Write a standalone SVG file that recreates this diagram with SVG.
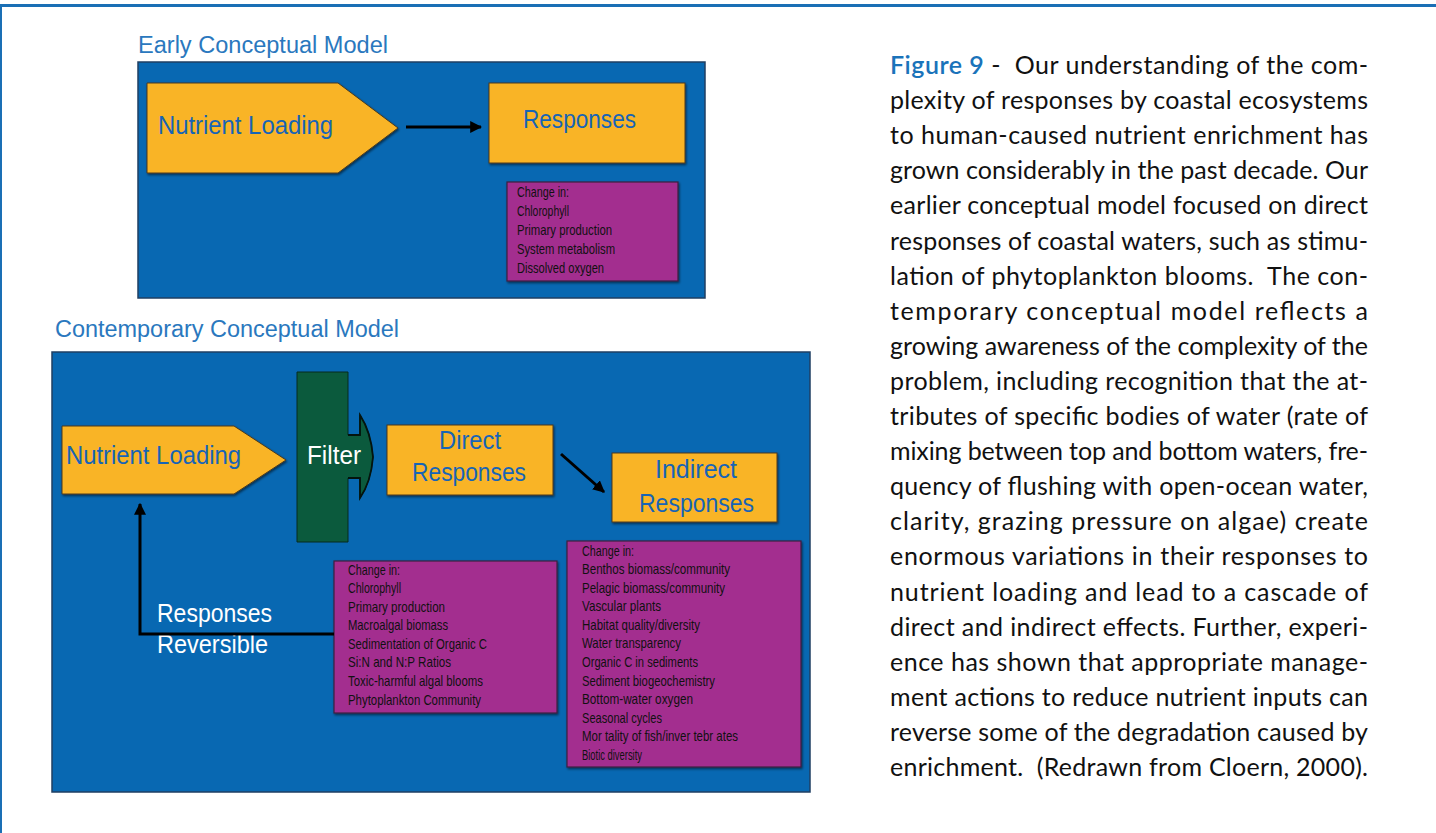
<svg xmlns="http://www.w3.org/2000/svg" width="1436" height="833" viewBox="0 0 1436 833">
<defs>
<style>
.bg{fill:#ffffff}
.panel{fill:#0868b2;stroke:#1f3f63;stroke-width:1.5}
.orange{fill:#f9b426;stroke:#4a3a20;stroke-width:1;filter:url(#sh)}
.purple{fill:#a32f8f;stroke:#3b2040;stroke-width:1.2;filter:url(#sh)}
.green{fill:#0b5a3d;stroke:#062a1e;stroke-width:1}
.title{font-family:"Liberation Sans",Arial,sans-serif;font-size:23px;fill:#2a78be}
.lbl{font-family:"Liberation Sans",Arial,sans-serif;font-size:25px;fill:#1764b6}
.wlbl{font-family:"Liberation Sans",Arial,sans-serif;font-size:25px;fill:#ffffff}
.lst{font-family:"Liberation Sans",Arial,sans-serif;font-size:15px;fill:#111111}
.cap{font-family:Lato,"Open Sans",sans-serif;font-size:25px;fill:#111111}
.fig{fill:#1a73ba;font-weight:600}
.conn{stroke:#000000;stroke-width:3;fill:none}
</style>
<filter id="sh" x="-5%" y="-5%" width="110%" height="115%">
<feDropShadow dx="1" dy="1.5" stdDeviation="0.8" flood-color="#000000" flood-opacity="0.55"/>
</filter>
<marker id="ah" viewBox="0 0 10 10" refX="9" refY="5" markerWidth="4" markerHeight="4" orient="auto" markerUnits="strokeWidth">
<path d="M0,0 L10,5 L0,10 z" fill="#000000"/>
</marker>
</defs>
<rect class="bg" x="0" y="0" width="1436" height="833"/>
<g id="frame">
<rect x="0" y="4" width="1436" height="3" fill="#1a6fb5"/>
<rect x="0" y="4" width="2" height="829" fill="#1a6fb5"/>
</g>

<g id="early-model">
<text class="title" x="138" y="53" textLength="250" lengthAdjust="spacingAndGlyphs">Early Conceptual Model</text>
<rect class="panel" x="138" y="62" width="567" height="236"/>
</g>
<g id="early-nutrient-loading">
<polygon class="orange" points="147,83 338,83 398,128 338,173 147,173"/>
<text class="lbl" x="158" y="134" textLength="175" lengthAdjust="spacingAndGlyphs">Nutrient Loading</text>
</g>
<g id="early-responses">
<rect class="orange" x="489" y="83" width="196" height="80"/>
<text class="lbl" x="523" y="128" textLength="113" lengthAdjust="spacingAndGlyphs">Responses</text>
</g>
<g id="early-changes">
<rect class="purple" x="507" y="182" width="171" height="99"/>
<text class="lst" x="517" y="197" textLength="52" lengthAdjust="spacingAndGlyphs">Change in:</text>
<text class="lst" x="517" y="216" textLength="52" lengthAdjust="spacingAndGlyphs">Chlorophyll</text>
<text class="lst" x="517" y="235" textLength="95" lengthAdjust="spacingAndGlyphs">Primary production</text>
<text class="lst" x="517" y="254" textLength="98" lengthAdjust="spacingAndGlyphs">System metabolism</text>
<text class="lst" x="517" y="273" textLength="87" lengthAdjust="spacingAndGlyphs">Dissolved oxygen</text>
</g>

<g id="contemporary-model">
<text class="title" x="55" y="337" textLength="344" lengthAdjust="spacingAndGlyphs">Contemporary Conceptual Model</text>
<rect class="panel" x="52" y="352" width="758" height="440"/>
</g>
<g id="contemporary-nutrient-loading">
<polygon class="orange" points="62,426 234,426 286,460 234,494 62,494"/>
<text class="lbl" x="66" y="464" textLength="175" lengthAdjust="spacingAndGlyphs">Nutrient Loading</text>
</g>
<g id="filter">
<path class="green" d="M297,372 H348 V435 H360 V415 Q371,432 373,457 Q371,482 360,498 V478 H348 V542 H297 Z"/>
<path d="M348,435 H360 V415 Q371,432 373,457 Q371,482 360,498 V478 H348" fill="none" stroke="#04140e" stroke-width="1.8"/>
<text class="wlbl" x="307" y="464" textLength="54" lengthAdjust="spacingAndGlyphs">Filter</text>
</g>
<g id="direct-responses">
<rect class="orange" x="387" y="425" width="166" height="70"/>
<text class="lbl" x="439" y="449" textLength="62" lengthAdjust="spacingAndGlyphs">Direct</text>
<text class="lbl" x="412" y="481" textLength="114" lengthAdjust="spacingAndGlyphs">Responses</text>
</g>
<g id="indirect-responses">
<rect class="orange" x="612" y="453" width="165" height="69"/>
<text class="lbl" x="655" y="478" textLength="82" lengthAdjust="spacingAndGlyphs">Indirect</text>
<text class="lbl" x="639" y="512" textLength="115" lengthAdjust="spacingAndGlyphs">Responses</text>
</g>
<g id="direct-changes">
<rect class="purple" x="334" y="561" width="223" height="152"/>
<text class="lst" x="348" y="575" textLength="52" lengthAdjust="spacingAndGlyphs">Change in:</text>
<text class="lst" x="348" y="593" textLength="53" lengthAdjust="spacingAndGlyphs">Chlorophyll</text>
<text class="lst" x="348" y="612" textLength="97" lengthAdjust="spacingAndGlyphs">Primary production</text>
<text class="lst" x="348" y="630" textLength="100" lengthAdjust="spacingAndGlyphs">Macroalgal biomass</text>
<text class="lst" x="348" y="649" textLength="139" lengthAdjust="spacingAndGlyphs">Sedimentation of Organic C</text>
<text class="lst" x="348" y="667" textLength="103" lengthAdjust="spacingAndGlyphs">Si:N and N:P Ratios</text>
<text class="lst" x="348" y="686" textLength="135" lengthAdjust="spacingAndGlyphs">Toxic-harmful algal blooms</text>
<text class="lst" x="348" y="705" textLength="133" lengthAdjust="spacingAndGlyphs">Phytoplankton Community</text>
</g>
<g id="indirect-changes">
<rect class="purple" x="567" y="541" width="234" height="226"/>
<text class="lst" x="582" y="556" textLength="52" lengthAdjust="spacingAndGlyphs">Change in:</text>
<text class="lst" x="582" y="574" textLength="148" lengthAdjust="spacingAndGlyphs">Benthos biomass/community</text>
<text class="lst" x="582" y="593" textLength="143" lengthAdjust="spacingAndGlyphs">Pelagic biomass/community</text>
<text class="lst" x="582" y="611" textLength="79" lengthAdjust="spacingAndGlyphs">Vascular plants</text>
<text class="lst" x="582" y="630" textLength="118" lengthAdjust="spacingAndGlyphs">Habitat quality/diversity</text>
<text class="lst" x="582" y="648" textLength="99" lengthAdjust="spacingAndGlyphs">Water transparency</text>
<text class="lst" x="582" y="667" textLength="116" lengthAdjust="spacingAndGlyphs">Organic C in sediments</text>
<text class="lst" x="582" y="686" textLength="133" lengthAdjust="spacingAndGlyphs">Sediment biogeochemistry</text>
<text class="lst" x="582" y="704" textLength="111" lengthAdjust="spacingAndGlyphs">Bottom-water oxygen</text>
<text class="lst" x="582" y="723" textLength="80" lengthAdjust="spacingAndGlyphs">Seasonal cycles</text>
<text class="lst" x="582" y="741" textLength="156" lengthAdjust="spacingAndGlyphs">Mor tality of fish/inver tebr ates</text>
<text class="lst" x="582" y="760" textLength="60" lengthAdjust="spacingAndGlyphs">Biotic diversity</text>
</g>
<g id="reversible-label">
<text class="wlbl" x="157" y="622" textLength="115" lengthAdjust="spacingAndGlyphs">Responses</text>
<text class="wlbl" x="157" y="653" textLength="111" lengthAdjust="spacingAndGlyphs">Reversible</text>
</g>

<g id="connectors">
<line class="conn" x1="406" y1="127" x2="481" y2="127" marker-end="url(#ah)"/>
<line class="conn" x1="561" y1="454" x2="604" y2="492" marker-end="url(#ah)"/>
<polyline class="conn" points="334,634 140,634 140,504" marker-end="url(#ah)"/>
</g>

<g id="caption">
<text class="cap" x="890" y="74" textLength="478" lengthAdjust="spacing" xml:space="preserve"><tspan class="fig">Figure 9</tspan> -  Our understanding of the com-</text>
<text class="cap" x="890" y="109" textLength="478" lengthAdjust="spacing">plexity of responses by coastal ecosystems</text>
<text class="cap" x="890" y="144" textLength="478" lengthAdjust="spacing">to human-caused nutrient enrichment has</text>
<text class="cap" x="890" y="179" textLength="478" lengthAdjust="spacing">grown considerably in the past decade. Our</text>
<text class="cap" x="890" y="214" textLength="478" lengthAdjust="spacing">earlier conceptual model focused on direct</text>
<text class="cap" x="890" y="250" textLength="478" lengthAdjust="spacing">responses of coastal waters, such as stimu-</text>
<text class="cap" x="890" y="285" textLength="478" lengthAdjust="spacing" xml:space="preserve">lation of phytoplankton blooms.  The con-</text>
<text class="cap" x="890" y="320" textLength="478" lengthAdjust="spacing">temporary conceptual model reflects a</text>
<text class="cap" x="890" y="355" textLength="478" lengthAdjust="spacing">growing awareness of the complexity of the</text>
<text class="cap" x="890" y="390" textLength="478" lengthAdjust="spacing">problem, including recognition that the at-</text>
<text class="cap" x="890" y="425" textLength="478" lengthAdjust="spacing">tributes of specific bodies of water (rate of</text>
<text class="cap" x="890" y="460" textLength="478" lengthAdjust="spacing">mixing between top and bottom waters, fre-</text>
<text class="cap" x="890" y="495" textLength="478" lengthAdjust="spacing">quency of flushing with open-ocean water,</text>
<text class="cap" x="890" y="530" textLength="478" lengthAdjust="spacing">clarity, grazing pressure on algae) create</text>
<text class="cap" x="890" y="565" textLength="478" lengthAdjust="spacing">enormous variations in their responses to</text>
<text class="cap" x="890" y="601" textLength="478" lengthAdjust="spacing">nutrient loading and lead to a cascade of</text>
<text class="cap" x="890" y="636" textLength="478" lengthAdjust="spacing">direct and indirect effects. Further, experi-</text>
<text class="cap" x="890" y="671" textLength="478" lengthAdjust="spacing">ence has shown that appropriate manage-</text>
<text class="cap" x="890" y="706" textLength="478" lengthAdjust="spacing">ment actions to reduce nutrient inputs can</text>
<text class="cap" x="890" y="741" textLength="478" lengthAdjust="spacing">reverse some of the degradation caused by</text>
<text class="cap" x="890" y="776" textLength="478" lengthAdjust="spacing" xml:space="preserve">enrichment.  (Redrawn from Cloern, 2000).</text>
</g>
</svg>
